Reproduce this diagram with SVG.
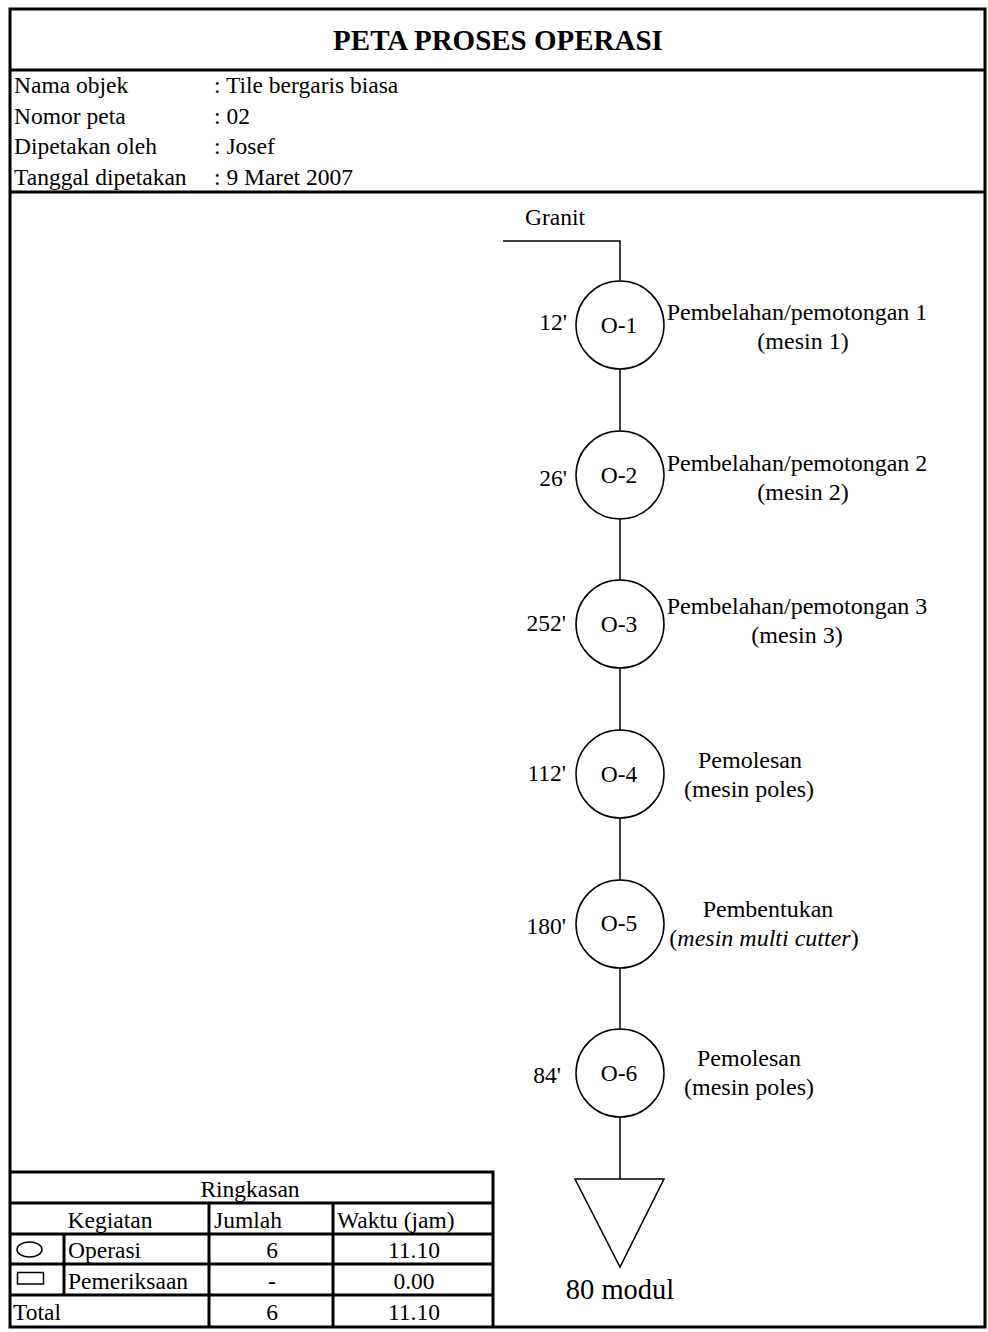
<svg xmlns="http://www.w3.org/2000/svg" width="988" height="1332" viewBox="0 0 988 1332">
<style>
text{font-family:"Liberation Serif","Times New Roman",serif;font-size:23.5px;fill:#000}
.title{font-weight:bold;font-size:29px}
.d{font-size:24px}
.m{text-anchor:middle}
.e{text-anchor:end}
.thick{stroke:#000;stroke-width:3;fill:none}
.thin{stroke:#000;stroke-width:1.5;fill:none}
.node{stroke:#000;stroke-width:1.5;fill:#fff}
</style>
<rect width="988" height="1332" fill="#fff"/>
<g id="frame">
<rect x="10" y="9" width="975" height="1318" class="thick"/>
<line x1="10" y1="70" x2="985" y2="70" class="thick"/>
<line x1="10" y1="192" x2="985" y2="192" class="thick"/>
<text x="498" y="50" class="title m">PETA PROSES OPERASI</text>
</g>
<g id="info">
<text x="14" y="93">Nama objek</text><text x="214" y="93">: Tile bergaris biasa</text>
<text x="14" y="124">Nomor peta</text><text x="214" y="124">: 02</text>
<text x="14" y="154">Dipetakan oleh</text><text x="214" y="154">: Josef</text>
<text x="14" y="185">Tanggal dipetakan</text><text x="214" y="185">: 9 Maret 2007</text>
</g>
<g id="connectors">
<polyline points="503,241 620,241 620,281" class="thin"/>
<line x1="620" y1="369" x2="620" y2="431" class="thin"/>
<line x1="620" y1="519" x2="620" y2="580" class="thin"/>
<line x1="620" y1="668" x2="620" y2="730" class="thin"/>
<line x1="620" y1="818" x2="620" y2="880" class="thin"/>
<line x1="620" y1="968" x2="620" y2="1029" class="thin"/>
<line x1="620" y1="1117" x2="620" y2="1179" class="thin"/>
</g>
<g id="granit"><text x="555" y="225" class="m">Granit</text></g>
<g id="o1">
<circle cx="620" cy="325" r="44" class="node"/>
<text x="619" y="333" class="m">O-1</text>
<text x="567" y="330" class="e">12'</text>
<text x="797" y="320" class="m d">Pembelahan/pemotongan 1</text>
<text x="803" y="349" class="m d">(mesin 1)</text>
</g>
<g id="o2">
<circle cx="620" cy="475" r="44" class="node"/>
<text x="619" y="483" class="m">O-2</text>
<text x="567" y="486" class="e">26'</text>
<text x="797" y="471" class="m d">Pembelahan/pemotongan 2</text>
<text x="803" y="500" class="m d">(mesin 2)</text>
</g>
<g id="o3">
<circle cx="620" cy="624" r="44" class="node"/>
<text x="619" y="632" class="m">O-3</text>
<text x="566" y="631" class="e">252'</text>
<text x="797" y="614" class="m d">Pembelahan/pemotongan 3</text>
<text x="797" y="643" class="m d">(mesin 3)</text>
</g>
<g id="o4">
<circle cx="620" cy="774" r="44" class="node"/>
<text x="619" y="782" class="m">O-4</text>
<text x="566" y="781" class="e">112'</text>
<text x="750" y="768" class="m d">Pemolesan</text>
<text x="749" y="797" class="m d">(mesin poles)</text>
</g>
<g id="o5">
<circle cx="620" cy="924" r="44" class="node"/>
<text x="619" y="931" class="m">O-5</text>
<text x="566" y="934" class="e">180'</text>
<text x="768" y="917" class="m d">Pembentukan</text>
<text x="764" y="946" class="m d">(<tspan font-style="italic">mesin multi cutter</tspan>)</text>
</g>
<g id="o6">
<circle cx="620" cy="1073" r="44" class="node"/>
<text x="619" y="1081" class="m">O-6</text>
<text x="561" y="1083" class="e">84'</text>
<text x="749" y="1066" class="m d">Pemolesan</text>
<text x="749" y="1095" class="m d">(mesin poles)</text>
</g>
<g id="storage">
<polygon points="575,1179 664,1179 620,1267" class="node"/>
<text x="620" y="1299" class="m" style="font-size:28.5px">80 modul</text>
</g>
<g id="summary">
<polyline points="10,1172 493,1172 493,1327" class="thick"/>
<line x1="10" y1="1203" x2="493" y2="1203" class="thick"/>
<line x1="10" y1="1234" x2="493" y2="1234" class="thick"/>
<line x1="10" y1="1264" x2="493" y2="1264" class="thick"/>
<line x1="10" y1="1295" x2="493" y2="1295" class="thick"/>
<line x1="64" y1="1234" x2="64" y2="1295" class="thick"/>
<line x1="209" y1="1203" x2="209" y2="1327" class="thick"/>
<line x1="333" y1="1203" x2="333" y2="1327" class="thick"/>
<text x="250" y="1197" class="m">Ringkasan</text>
<text x="110" y="1228" class="m">Kegiatan</text>
<text x="214" y="1228">Jumlah</text>
<text x="337" y="1228">Waktu (jam)</text>
<ellipse cx="29.5" cy="1249.5" rx="12.5" ry="7.5" class="thin"/>
<text x="68" y="1258">Operasi</text>
<text x="272" y="1258" class="m">6</text>
<text x="414" y="1258" class="m">11.10</text>
<rect x="17.5" y="1272.5" width="26" height="11.5" class="thin"/>
<text x="68" y="1289">Pemeriksaan</text>
<text x="272" y="1289" class="m">-</text>
<text x="414" y="1289" class="m">0.00</text>
<text x="13" y="1320">Total</text>
<text x="272" y="1320" class="m">6</text>
<text x="414" y="1320" class="m">11.10</text>
</g>
</svg>
